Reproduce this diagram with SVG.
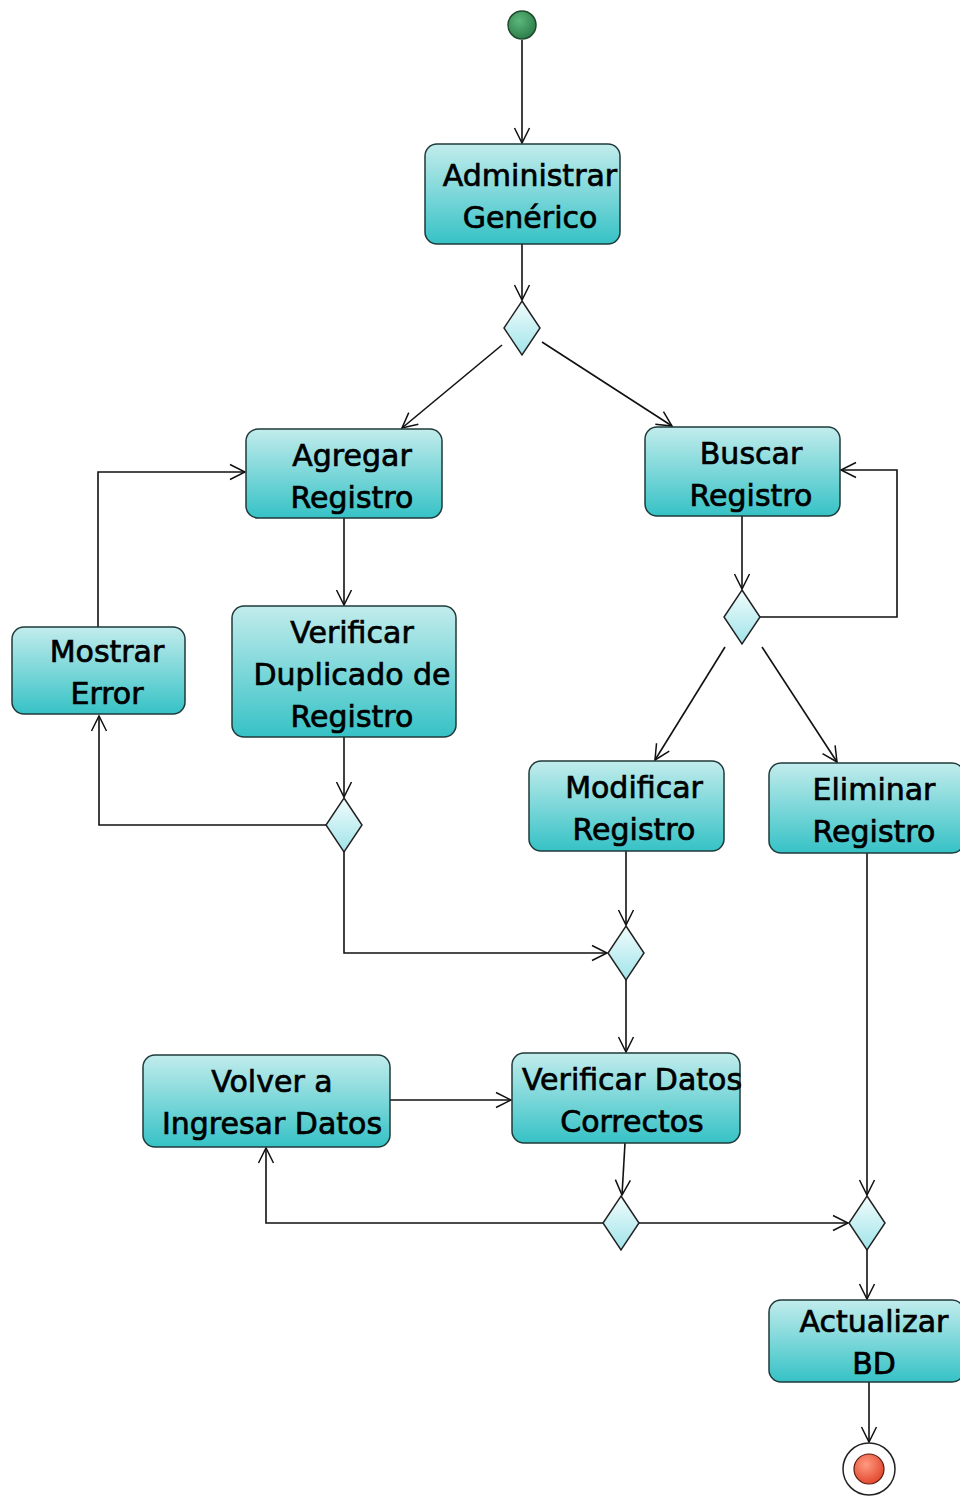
<svg xmlns="http://www.w3.org/2000/svg" width="960" height="1497" viewBox="0 0 960 1497">
<defs>
<linearGradient id="gBox" x1="0" y1="0" x2="0" y2="1">
<stop offset="0" stop-color="#c2ecec"/>
<stop offset="1" stop-color="#36c2c6"/>
</linearGradient>
<linearGradient id="gDia" x1="0" y1="0" x2="0" y2="1">
<stop offset="0" stop-color="#f2fcfc"/>
<stop offset="1" stop-color="#9fe4ea"/>
</linearGradient>
<radialGradient id="gStart" cx="0.4" cy="0.35" r="0.7">
<stop offset="0" stop-color="#5cb87a"/>
<stop offset="1" stop-color="#2a7a48"/>
</radialGradient>
<radialGradient id="gEnd" cx="0.4" cy="0.35" r="0.7">
<stop offset="0" stop-color="#ff9a80"/>
<stop offset="1" stop-color="#e0442a"/>
</radialGradient>
<marker id="arr" markerWidth="18" markerHeight="18" refX="16" refY="9" orient="auto" markerUnits="userSpaceOnUse">
<path d="M1,1.5 L16,9 L1,16.5" fill="none" stroke="#111" stroke-width="1.5"/>
</marker>
</defs>
<style>
.box{fill:url(#gBox);stroke:#1f3a3a;stroke-width:1.5}
.dia{fill:url(#gDia);stroke:#222;stroke-width:1.5}
.t{font-family:"DejaVu Sans",Verdana,sans-serif;font-size:30px;fill:#000;text-anchor:middle;stroke:#000;stroke-width:0.7}
.c{fill:none;stroke:#111;stroke-width:1.6;marker-end:url(#arr)}
</style>
<rect width="960" height="1497" fill="#fff"/>

<g id="connectors">
<path class="c" d="M522,40 L522,143"/>
<path class="c" d="M522,244 L522,300"/>
<path class="c" d="M502,345 L402,428"/>
<path class="c" d="M542,342 L672,426"/>
<path class="c" d="M344,518 L344,605"/>
<path class="c" d="M344,737 L344,797"/>
<path class="c" d="M326,825 L99,825 L99,716"/>
<path class="c" d="M98,627 L98,472 L245,472"/>
<path class="c" d="M344,852 L344,953 L607,953"/>
<path class="c" d="M742,516 L742,589"/>
<path class="c" d="M760,617 L897,617 L897,470 L841,470"/>
<path class="c" d="M725,647 L655,760"/>
<path class="c" d="M762,647 L837,762"/>
<path class="c" d="M626,851 L626,925"/>
<path class="c" d="M626,980 L626,1052"/>
<path class="c" d="M390,1100 L511,1100"/>
<path class="c" d="M625,1143 L622,1195"/>
<path class="c" d="M603,1223 L266,1223 L266,1148"/>
<path class="c" d="M639,1223 L848,1223"/>
<path class="c" d="M867,853 L867,1195"/>
<path class="c" d="M867,1250 L867,1299"/>
<path class="c" d="M869,1382 L869,1442"/>
</g>

<g id="start"><circle cx="522" cy="25" r="14" fill="url(#gStart)" stroke="#1e4a2c" stroke-width="1.5"/></g>

<g id="administrar"><rect class="box" x="425" y="144" width="195" height="100" rx="12"/>
<text class="t" x="530" y="186">Administrar</text><text class="t" x="530" y="228">Genérico</text></g>

<g id="dec1"><path class="dia" d="M522,301 L540,328 L522,355 L504,328 Z"/></g>

<g id="agregar"><rect class="box" x="246" y="429" width="196" height="89" rx="12"/>
<text class="t" x="352" y="466">Agregar</text><text class="t" x="352" y="508">Registro</text></g>

<g id="buscar"><rect class="box" x="645" y="427" width="195" height="89" rx="12"/>
<text class="t" x="751" y="464">Buscar</text><text class="t" x="751" y="506">Registro</text></g>

<g id="mostrar"><rect class="box" x="12" y="627" width="173" height="87" rx="12"/>
<text class="t" x="107" y="662">Mostrar</text><text class="t" x="107" y="704">Error</text></g>

<g id="verificarDup"><rect class="box" x="232" y="606" width="224" height="131" rx="12"/>
<text class="t" x="352" y="643">Verificar</text><text class="t" x="352" y="685">Duplicado de</text><text class="t" x="352" y="727">Registro</text></g>

<g id="dec2"><path class="dia" d="M742,590 L760,617 L742,644 L724,617 Z"/></g>

<g id="modificar"><rect class="box" x="529" y="761" width="195" height="90" rx="12"/>
<text class="t" x="634" y="798">Modificar</text><text class="t" x="634" y="840">Registro</text></g>

<g id="eliminar"><rect class="box" x="769" y="763" width="195" height="90" rx="12"/>
<text class="t" x="874" y="800">Eliminar</text><text class="t" x="874" y="842">Registro</text></g>

<g id="dec3"><path class="dia" d="M344,798 L362,825 L344,852 L326,825 Z"/></g>

<g id="dec4"><path class="dia" d="M626,926 L644,953 L626,980 L608,953 Z"/></g>

<g id="volver"><rect class="box" x="143" y="1055" width="247" height="92" rx="12"/>
<text class="t" x="272" y="1092">Volver a</text><text class="t" x="272" y="1134">Ingresar Datos</text></g>

<g id="verificarDatos"><rect class="box" x="512" y="1053" width="228" height="90" rx="12"/>
<text class="t" x="632" y="1090">Verificar Datos</text><text class="t" x="632" y="1132">Correctos</text></g>

<g id="dec5"><path class="dia" d="M621,1196 L639,1223 L621,1250 L603,1223 Z"/></g>

<g id="dec6"><path class="dia" d="M867,1196 L885,1223 L867,1250 L849,1223 Z"/></g>

<g id="actualizar"><rect class="box" x="769" y="1300" width="195" height="82" rx="12"/>
<text class="t" x="874" y="1332">Actualizar</text><text class="t" x="874" y="1374">BD</text></g>

<g id="end"><circle cx="869" cy="1469" r="26" fill="#fff" stroke="#222" stroke-width="1.5"/>
<circle cx="869" cy="1469" r="15" fill="url(#gEnd)" stroke="#5a1a10" stroke-width="1.2"/></g>
</svg>
